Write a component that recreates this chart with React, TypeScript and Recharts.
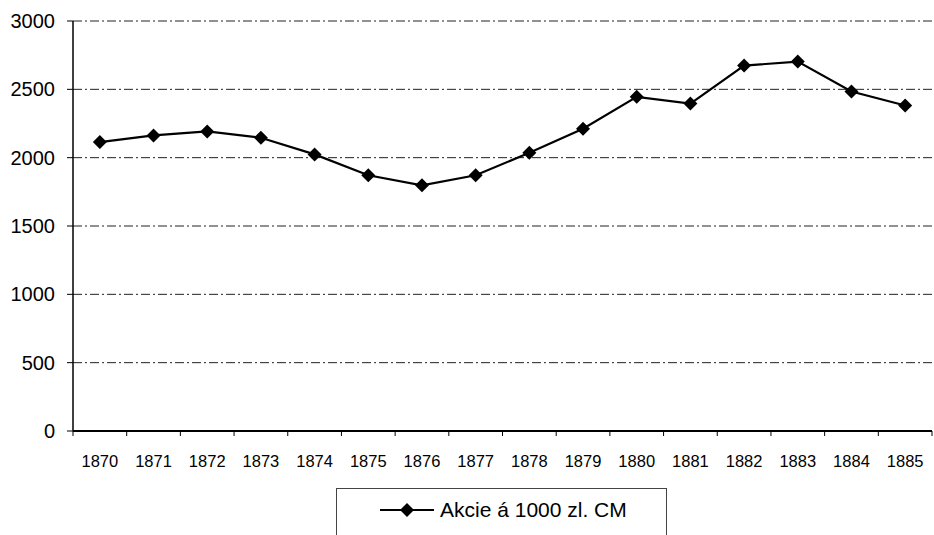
import { LineChart, Line, XAxis, YAxis, CartesianGrid } from 'recharts';

const years = [1870, 1871, 1872, 1873, 1874, 1875, 1876, 1877, 1878, 1879, 1880, 1881, 1882, 1883, 1884, 1885];
const prices = [2114, 2163, 2192, 2146, 2024, 1871, 1798, 1871, 2036, 2212, 2445, 2396, 2674, 2703, 2484, 2382];
const yTicks = [0, 500, 1000, 1500, 2000, 2500, 3000];
const seriesName = 'Akcie á 1000 zl. CM';

const data = years.map((year, i) => ({ year, value: prices[i] }));
// tick marks sit between the categories, like the original
const boundaries = [...years.map(y => y - 0.5), years[years.length - 1] + 0.5];

const FONT = '"Liberation Sans", Arial, sans-serif';

function Diamond(props: any) {
  const { cx, cy } = props;
  if (cx == null || cy == null) return null;
  const r = 7;
  return (
    <polygon
      points={`${cx},${cy - r} ${cx + r},${cy} ${cx},${cy + r} ${cx - r},${cy}`}
      fill="#000"
    />
  );
}

export default function App() {
  return (
    <div style={{ position: 'absolute', left: 0, top: 0, width: 934, height: 535, background: '#fff', fontFamily: FONT }}>
      <LineChart
        width={934}
        height={535}
        data={data}
        margin={{ top: 21, right: 2, left: 0, bottom: 54 }}
      >
        <CartesianGrid
          vertical={false}
          stroke="#222"
          strokeDasharray="9 3 2 3"
          strokeWidth={1}
        />
        <XAxis
          xAxisId="b"
          dataKey="year"
          type="number"
          domain={[boundaries[0], boundaries[boundaries.length - 1]]}
          ticks={years}
          interval={0}
          tickLine={false}
          axisLine={false}
          tickSize={0}
          tickMargin={18}
          height={44}
          tick={{ fontSize: 16.5, fill: '#000', fontFamily: FONT }}
        />
        <XAxis
          xAxisId="a"
          dataKey="year"
          type="number"
          domain={[boundaries[0], boundaries[boundaries.length - 1]]}
          ticks={boundaries}
          interval={0}
          tickFormatter={() => ''}
          tickSize={5}
          height={6}
          stroke="#000"
          axisLine={{ stroke: '#000', strokeWidth: 2 }}
        />
        <YAxis
          domain={[0, 3000]}
          ticks={yTicks}
          interval={0}
          width={73}
          tickSize={6}
          tickMargin={12}
          stroke="#000"
          axisLine={{ stroke: '#000', strokeWidth: 1.5 }}
          tick={{ fontSize: 20, fill: '#000', fontFamily: FONT }}
        />
        <Line
          xAxisId="a"
          type="linear"
          dataKey="value"
          name={seriesName}
          stroke="#000"
          strokeWidth={2.2}
          dot={<Diamond />}
          activeDot={false}
          isAnimationActive={false}
        />
      </LineChart>
      <div
        style={{
          position: 'absolute',
          left: 336,
          top: 488,
          width: 331,
          height: 60,
          border: '1px solid #444',
          boxSizing: 'border-box',
          display: 'flex',
          alignItems: 'flex-start',
          paddingTop: 10,
          paddingLeft: 43,
        }}
      >
        <svg width={56} height={22} style={{ display: 'block' }}>
          <line x1={0} y1={11} x2={54} y2={11} stroke="#000" strokeWidth={2} />
          <polygon points="27,4 34,11 27,18 20,11" fill="#000" />
        </svg>
        <span style={{ fontSize: 21, color: '#000', lineHeight: '22px', marginLeft: 4 }}>{seriesName}</span>
      </div>
    </div>
  );
}
